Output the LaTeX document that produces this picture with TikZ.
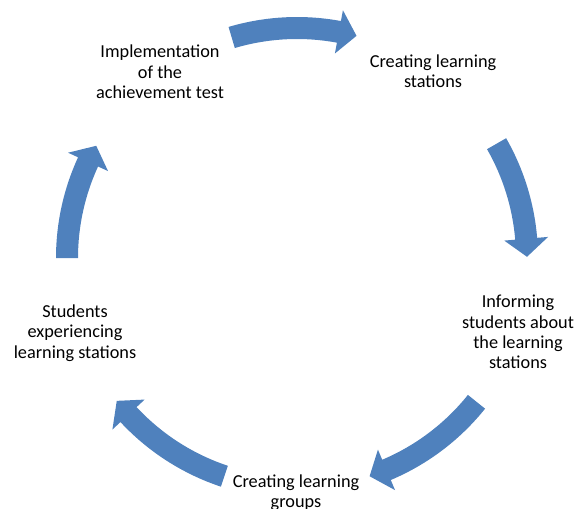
\documentclass[tikz,border=0pt]{standalone}
\usepackage{fontspec}
\setmainfont{Carlito}
\definecolor{cyclefill}{RGB}{79,129,189}
\newcommand\cyclearrow[2]{%
  \fill[cyclefill] ([shift={(C)}]#1:241) arc[start angle=#1, end angle=#2+4.5, radius=241]
    -- ([shift={(C)}]#2+4.5:252) -- ([shift={(C)}]#2:230) -- ([shift={(C)}]#2+4.5:208)
    -- ([shift={(C)}]#2+4.5:219) arc[start angle=#2+4.5, end angle=#1, radius=219] -- cycle;}
\begin{document}
\begin{tikzpicture}[x=0.75pt,y=0.75pt,
  lbl/.style={align=center, inner sep=0pt, font=\fontsize{13.7}{15.3}\selectfont}]
\useasboundingbox (0,0) rectangle (577,508);
\coordinate (C) at (297,250);
% labels
\node[lbl] (impl) at (160,436) {Implementation\\of the\\achievement test};
\node[lbl] (cls)  at (433,437) {Creating learning\\stations};
\node[lbl] (inf)  at (518,176) {Informing\\students about\\the learning\\stations};
\node[lbl] (grp)  at (296,15)  {Creating learning\\groups};
\node[lbl] (stu)  at (75,175)  {Students\\experiencing\\learning stations};
% curved block arrows (clockwise)
\cyclearrow{106.5}{75}
\cyclearrow{29.8}{0.3}
\cyclearrow{-38.7}{-71.6}
\cyclearrow{-108.4}{-141.6}
\cyclearrow{180}{150.8}
\end{tikzpicture}
\end{document}
